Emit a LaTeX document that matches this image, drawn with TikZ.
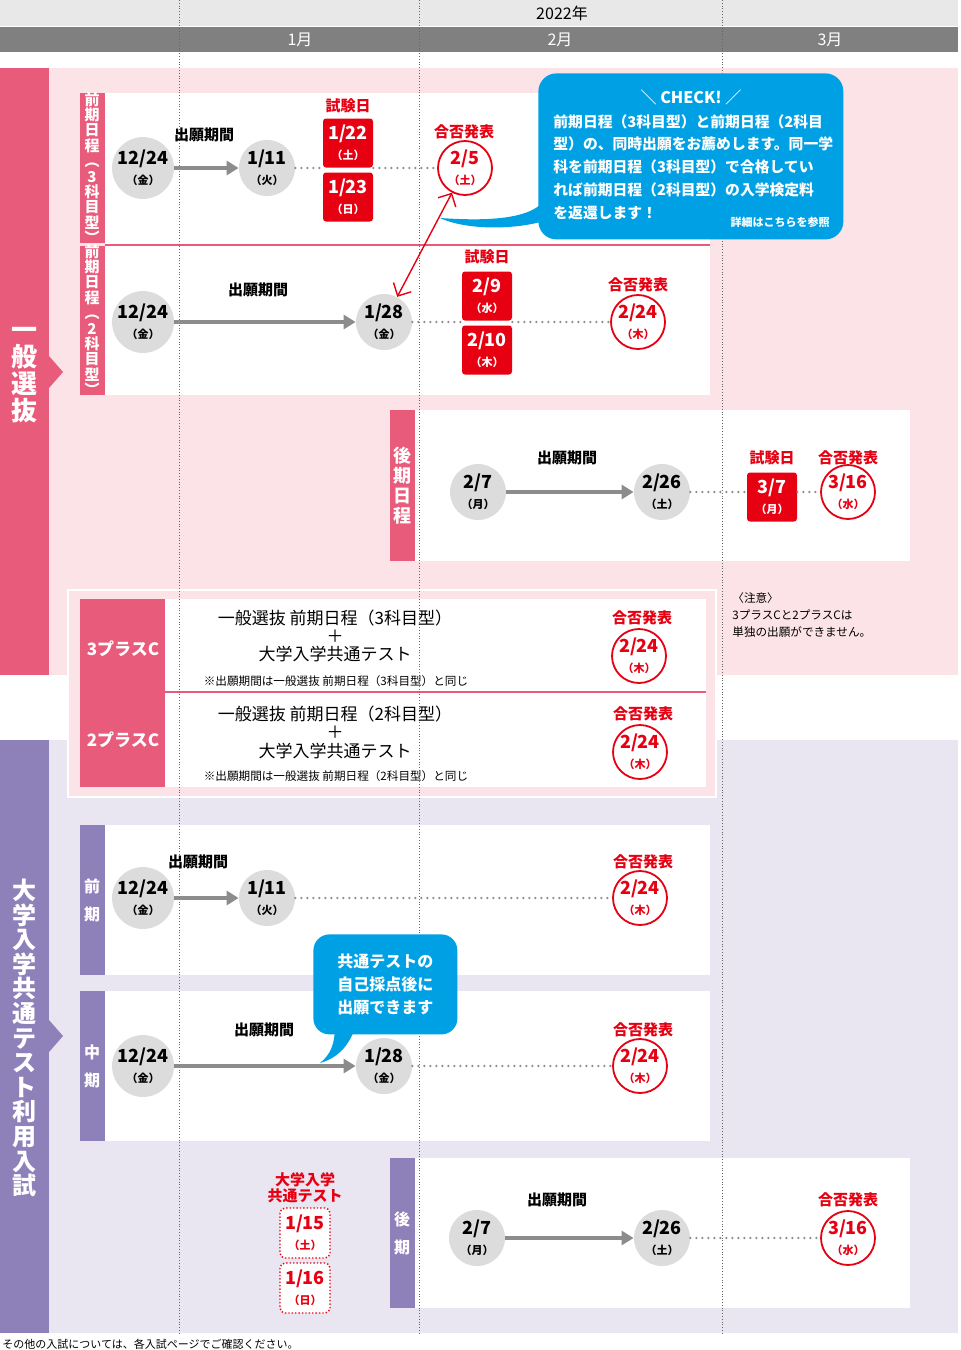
\documentclass[tikz,border=0pt]{standalone}
\usepackage{fontspec}
\setmainfont{Noto Sans CJK JP}
\usetikzlibrary{arrows.meta,shapes}
\definecolor{cpink}{HTML}{E85B7A}
\definecolor{cpinkbg}{HTML}{FBE3E8}
\definecolor{cpurp}{HTML}{8E80B9}
\definecolor{cpurpbg}{HTML}{E9E6F1}
\definecolor{cred}{HTML}{E60012}
\definecolor{cgray}{HTML}{DCDCDC}
\definecolor{cline}{HTML}{8C8C8C}
\definecolor{cblue}{HTML}{00A0E4}
\newcommand\dd[2]{{\fontsize{9}{10}\selectfont\bfseries #1}\\[-2pt]{\fontsize{5.5}{6}\selectfont\bfseries （#2）}}
\tikzset{
  grayc/.style={circle,fill=cgray,minimum size=28pt,inner sep=0pt,align=center},
  redc/.style={circle,draw=cred,line width=0.9pt,fill=white,text=cred,minimum size=27pt,inner sep=0pt,align=center},
  redbox/.style={rectangle,rounded corners=1.5pt,fill=cred,text=white,minimum width=25pt,minimum height=24.5pt,inner sep=0pt,align=center},
  dotbox/.style={rectangle,rounded corners=2.5pt,draw=cred,densely dotted,line width=0.7pt,fill=white,text=cred,minimum width=25pt,minimum height=25pt,inner sep=0pt,align=center},
  lab/.style={font=\fontsize{7.5}{8}\selectfont\bfseries,inner sep=0pt},
  rlab/.style={lab,text=cred,align=center},
  vlab/.style={text=white,font=\fontsize{7.5}{7.7}\selectfont\bfseries,align=center,inner sep=0pt},
  go/.style={draw=cline,line width=1.6pt,-{Triangle[length=6pt,width=7pt]}},
  wait/.style={draw=cline,line width=1.3pt,line cap=round,dash pattern=on 0pt off 3pt},
  month/.style={draw=black!60,densely dotted,line width=0.4pt},
}
\begin{document}
\begin{tikzpicture}[x=0.5pt,y=-0.5pt]
\useasboundingbox (0,0) rectangle (960,1350);
% header
\fill[black!9] (0,0) rectangle (958,26);
\fill[black!50] (0,27) rectangle (958,52);
\node[lab,font=\fontsize{8}{8}\selectfont] (year) at (562,13) {2022年};
\node[lab,text=white,font=\fontsize{8}{8}\selectfont] (jan) at (300,40) {1月};
\node[lab,text=white,font=\fontsize{8}{8}\selectfont] (feb) at (560,40) {2月};
\node[lab,text=white,font=\fontsize{8}{8}\selectfont] (mar) at (830,40) {3月};
% sections
\fill[cpinkbg] (49,68) rectangle (958,675);
\fill[cpink] (0,68) rectangle (49,675);
\fill[cpink] (49,356) -- (63,372) -- (49,388) -- cycle;
\node[text=white,font=\fontsize{13}{13.5}\selectfont\bfseries,align=center] (gen) at (24,375) {一\\般\\選\\抜};
\fill[cpurpbg] (49,740) rectangle (958,1333);
\fill[cpurp] (0,740) rectangle (49,1333);
\fill[cpurp] (49,1020) -- (63,1036) -- (49,1052) -- cycle;
\node[text=white,font=\fontsize{12}{12.3}\selectfont\bfseries,align=center] (kyo) at (24,1038) {大\\学\\入\\学\\共\\通\\テ\\ス\\ト\\利\\用\\入\\試};
% boxes
\fill[white] (105,93) rectangle (710,244);
\fill[white] (105,246) rectangle (710,395);
\draw[cpink,line width=0.8pt] (105,245) -- (710,245);
\fill[cpink] (80,93) rectangle (105,243);
\fill[cpink] (80,246) rectangle (105,395);
\fill[white] (415,410) rectangle (910,561);
\fill[cpink] (390,410) rectangle (415,561);
\fill[white] (105,825) rectangle (710,975);
\fill[cpurp] (80,825) rectangle (105,975);
\fill[white] (105,991) rectangle (710,1141);
\fill[cpurp] (80,991) rectangle (105,1141);
\fill[white] (415,1158) rectangle (910,1308);
\fill[cpurp] (390,1158) rectangle (415,1308);
% plus C
\fill[cpinkbg] (68,590) rectangle (716,797);
\draw[white,line width=1pt] (68,590) rectangle (716,797);
\fill[white] (165,599) rectangle (706,787);
\fill[cpink] (80,599) rectangle (165,787);
\draw[cpink,line width=0.8pt] (80,692) -- (706,692);
% month lines
\foreach \mx in {179,419,722}
  \draw[month] (\mx,0) -- (\mx,1333);
% band labels
\node[vlab] (l3) at (92,168) {前\\期\\日\\程\\︵\\3\\科\\目\\型\\︶};
\node[vlab] (l2) at (92,320) {前\\期\\日\\程\\︵\\2\\科\\目\\型\\︶};
\node[vlab,font=\fontsize{9}{10}\selectfont\bfseries] (lk) at (402,486) {後\\期\\日\\程};
\node[vlab,font=\fontsize{8}{14}\selectfont\bfseries] (lz) at (92,900) {前\\期};
\node[vlab,font=\fontsize{8}{14}\selectfont\bfseries] (lc) at (92,1066) {中\\期};
\node[vlab,font=\fontsize{8}{14}\selectfont\bfseries] (lkk) at (402,1233) {後\\期};
% row A
\node[grayc] (a1) at (143,168) {\dd{12/24}{金}};
\node[grayc] (a2) at (267,168) {\dd{1/11}{火}};
\node[redbox] (a3) at (348,143) {\dd{1/22}{土}};
\node[redbox] (a4) at (348,197) {\dd{1/23}{日}};
\node[redc] (a5) at (465,168) {\dd{2/5}{土}};
\node[lab] (ap) at (204,135) {出願期間};
\node[rlab] (at) at (348,106) {試験日};
\node[rlab] (ah) at (464,132) {合否発表};
\draw[go] (a1) -- (a2);
\draw[wait] (a2) -- (a3.west|-a2);
\draw[wait] (a3.east|-a2) -- (a5);
% row B
\node[grayc] (b1) at (143,322) {\dd{12/24}{金}};
\node[grayc] (b2) at (384,322) {\dd{1/28}{金}};
\node[redbox] (b3) at (487,296) {\dd{2/9}{水}};
\node[redbox] (b4) at (487,350) {\dd{2/10}{木}};
\node[redc] (b5) at (638,322) {\dd{2/24}{木}};
\node[lab] (bp) at (258,290) {出願期間};
\node[rlab] (bt) at (487,257) {試験日};
\node[rlab] (bh) at (638,285) {合否発表};
\draw[go] (b1) -- (b2);
\draw[wait] (b2) -- (b3.west|-b2);
\draw[wait] (b3.east|-b2) -- (b5);
\draw[cred,line width=0.7pt,{Straight Barb[length=5pt]}-{Straight Barb[length=5pt]}] (a5) -- (b2);
% row C
\node[grayc] (c1) at (478,492) {\dd{2/7}{月}};
\node[grayc] (c2) at (662,492) {\dd{2/26}{土}};
\node[redbox] (c3) at (772,497) {\dd{3/7}{月}};
\node[redc] (c4) at (848,492) {\dd{3/16}{水}};
\node[lab] (cp) at (567,458) {出願期間};
\node[rlab] (ct) at (772,458) {試験日};
\node[rlab] (ch) at (848,458) {合否発表};
\draw[go] (c1) -- (c2);
\draw[wait] (c2) -- (c3.west|-c2);
\draw[wait] (c3.east|-c2) -- (c4);
\node[font=\fontsize{5.8}{8.5}\selectfont,align=left,anchor=north west,inner sep=0pt] (note) at (732,592) {〈注意〉\\ 3プラスCと2プラスCは\\単独の出願ができません。};
% CHECK bubble
\fill[cblue] (540,205) .. controls (520,222) and (470,220) .. (440,218) .. controls (470,232) and (530,230) .. (560,215) -- cycle;
\node[fill=cblue,rounded corners=9pt,minimum width=152.5pt,minimum height=83pt,anchor=north west] (chk) at (538,73) {};
\node[text=white,font=\fontsize{8}{8}\selectfont\bfseries] (chkt) at (691,97) {＼ CHECK! ／};
\node[text=white,font=\fontsize{7.4}{11.4}\selectfont\bfseries,align=left,anchor=north west,inner sep=0pt] (chkb) at (553,114) {前期日程（3科目型）と前期日程（2科目\\型）の、同時出願をお薦めします。同一学\\科を前期日程（3科目型）で合格してい\\れば前期日程（2科目型）の入学検定料\\を返還します！};
\node[text=white,font=\fontsize{5.5}{6}\selectfont\bfseries,anchor=east,inner sep=0pt] (chkm) at (830,222) {詳細はこちらを参照};
% plus C rows
\node[text=white,font=\fontsize{8.5}{9}\selectfont\bfseries] (p3) at (123,649) {3プラスC};
\node[text=white,font=\fontsize{8.5}{9}\selectfont\bfseries] (p2) at (123,740) {2プラスC};
\node[font=\fontsize{8.5}{9.2}\selectfont,align=center] (p3t) at (335,636) {一般選抜 前期日程（3科目型）\\＋\\大学入学共通テスト};
\node[font=\fontsize{5.8}{6}\selectfont] (p3n) at (336,681) {※出願期間は一般選抜 前期日程（3科目型）と同じ};
\node[font=\fontsize{8.5}{9.2}\selectfont,align=center] (p2t) at (335,732) {一般選抜 前期日程（2科目型）\\＋\\大学入学共通テスト};
\node[font=\fontsize{5.8}{6}\selectfont] (p2n) at (336,776) {※出願期間は一般選抜 前期日程（2科目型）と同じ};
\node[redc] (p3c) at (639,656) {\dd{2/24}{木}};
\node[rlab] (p3h) at (642,618) {合否発表};
\node[redc] (p2c) at (640,752) {\dd{2/24}{木}};
\node[rlab] (p2h) at (643,714) {合否発表};
% row D
\node[grayc] (d1) at (143,898) {\dd{12/24}{金}};
\node[grayc] (d2) at (267,898) {\dd{1/11}{火}};
\node[redc] (d3) at (640,898) {\dd{2/24}{木}};
\node[lab] (dp) at (198,862) {出願期間};
\node[rlab] (dh) at (643,862) {合否発表};
\draw[go] (d1) -- (d2);
\draw[wait] (d2) -- (d3);
% row E
\node[grayc] (e1) at (143,1066) {\dd{12/24}{金}};
\node[grayc] (e2) at (384,1066) {\dd{1/28}{金}};
\node[redc] (e3) at (640,1066) {\dd{2/24}{木}};
\node[lab] (ep) at (264,1030) {出願期間};
\node[rlab] (eh) at (643,1030) {合否発表};
\draw[go] (e1) -- (e2);
\draw[wait] (e2) -- (e3);
\fill[cblue] (335,1025) .. controls (335,1045) and (330,1055) .. (320,1063) .. controls (338,1058) and (350,1045) .. (356,1025) -- cycle;
\node[fill=cblue,rounded corners=8pt,minimum width=72pt,minimum height=50pt,anchor=north west,text=white,font=\fontsize{8}{11.5}\selectfont\bfseries,align=center] (bub) at (313,934) {共通テストの\\自己採点後に\\出願できます};
% row F
\node[grayc] (f1) at (477,1238) {\dd{2/7}{月}};
\node[grayc] (f2) at (662,1238) {\dd{2/26}{土}};
\node[redc] (f3) at (848,1238) {\dd{3/16}{水}};
\node[lab] (fp) at (557,1200) {出願期間};
\node[rlab] (fh) at (848,1200) {合否発表};
\draw[go] (f1) -- (f2);
\draw[wait] (f2) -- (f3);
\node[dotbox] (k1) at (305,1233) {\dd{1/15}{土}};
\node[dotbox] (k2) at (305,1288) {\dd{1/16}{日}};
\node[rlab,font=\fontsize{7.5}{8}\selectfont\bfseries] (kt) at (305,1188) {大学入学\\共通テスト};
% footer
\node[font=\fontsize{5.5}{6}\selectfont,anchor=west,inner sep=0pt] (foot) at (2,1344) {その他の入試については、各入試ページでご確認ください。};
\end{tikzpicture}
\end{document}
